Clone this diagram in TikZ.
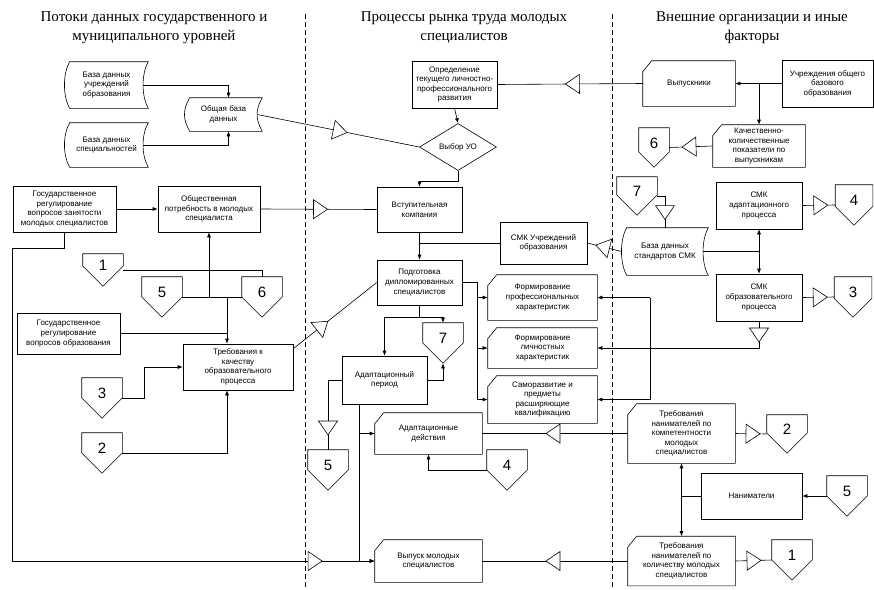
\documentclass[tikz,border=0pt]{standalone}
\usepackage{fontspec}
\setmainfont{Liberation Serif}
\newfontfamily\boxsans{Liberation Sans}
\usetikzlibrary{shapes.geometric,arrows.meta,calc}
\newcommand\storedout[1]{%
 \draw ($(#1.north west)+(5,0)$) -- (#1.north east)
   .. controls ($(#1.north east)+(-7,12)$) and ($(#1.south east)+(-7,-12)$) .. (#1.south east)
   -- ($(#1.south west)+(5,0)$)
   .. controls ($(#1.south west)+(-2,-12)$) and ($(#1.north west)+(-2,12)$) .. ($(#1.north west)+(5,0)$) -- cycle;}
\newcommand\cardout[1]{%
 \draw ($(#1.north west)+(9,0)$) -- (#1.north east) -- (#1.south east) -- (#1.south west) -- ($(#1.north west)+(0,11)$) -- cycle;}
\newcommand\offout[1]{%
 \draw (#1.north west) -- (#1.north east) -- ($(#1.south)!1.41421!45:(#1.south east)$) -- (#1.south)
   -- ($(#1.south)!1.41421!-45:(#1.south west)$) -- cycle;}
\begin{document}
\begin{tikzpicture}[x=1pt,y=-1pt,line width=0.6pt,
  every node/.style={font=\boxsans\fontsize{8}{9.6}\selectfont,align=center,inner sep=1pt},
  sz/.style 2 args={minimum width=#1pt,minimum height=#2pt},
  rbox/.style={draw},
  ttl/.style={font=\fontsize{15}{19}\selectfont},
  off/.style={inner sep=0pt,font=\boxsans\fontsize{15}{15}\selectfont,text height=11pt,text depth=10pt},
  tri/.style={draw,fill=white,isosceles triangle,isosceles triangle stretches,minimum width=19pt,
    minimum height=14pt,inner sep=0pt,sloped,allow upside down,anchor=center},
  arr/.style={-{Latex[length=5pt,width=4pt]}},
  arr2/.style={{Latex[length=5pt,width=4pt]}-{Latex[length=5pt,width=4pt]}},
  sepline/.style={dash pattern=on 5pt off 3pt,line width=0.5pt}]
\useasboundingbox (0,0) rectangle (874,589);
\fill[white] (0,0) rectangle (874,589);

% titles
\node[ttl] (t1) at (154,28) {Потоки данных государственного и\\муниципального уровней};
\node[ttl] (t2) at (464,28) {Процессы рынка труда молодых\\специалистов};
\node[ttl] (t3) at (752,28) {Внешние организации и иные\\факторы};

% separators
\draw[sepline] (305,14) -- (305,589);
\draw[sepline] (612,14) -- (612,589);

% left column
\node[sz={83}{46}] (dbA) at (106.5,85) {База данных\\учреждений\\образования};
\node[sz={83}{44}] (dbB) at (106.5,145) {База данных\\специальностей};
\node[sz={77}{33}] (dbAll) at (223.5,114.5) {Общая база\\данных};
\storedout{dbA}\storedout{dbB}\storedout{dbAll}
\node[rbox,sz={103}{46}] (gosZan) at (64.5,209) {Государственное\\регулирование\\вопросов занятости\\молодых специалистов};
\node[rbox,sz={102}{46}] (obPotr) at (209,209) {Общественная\\потребность в молодых\\специалиста};
\node[off,sz={40}{32}] (c1L) at (103,270) {1};
\node[off,sz={40}{40}] (c5L) at (162,297) {5};
\node[off,sz={40}{40}] (c6L) at (262,297) {6};
\node[rbox,sz={103}{41}] (gosObr) at (68.5,333.5) {Государственное\\регулирование\\вопросов образования};
\node[rbox,sz={110}{46}] (trKach) at (238,367) {Требования к\\качеству\\образовательного\\процесса};
\node[off,sz={40}{40}] (c3L) at (102,398) {3};
\node[off,sz={40}{40}] (c2L) at (102,453) {2};

% middle column
\node[rbox,sz={85}{47}] (opred) at (454.5,84.5) {Определение\\текущего личностно-\\профессионального\\развития};
\node[draw,diamond,sz={77}{47},inner sep=0pt] (vybor) at (458,147) {Выбор УО};
\node[rbox,sz={85}{45}] (vstup) at (419.5,209.5) {Вступительная\\компания};
\node[rbox,sz={87}{42}] (smkU) at (543.5,243) {СМК Учреждений\\образования};
\node[rbox,sz={85}{45}] (podg) at (419.5,282.5) {Подготовка\\дипломированных\\специалистов};
\node[sz={109}{45}] (fProf) at (542.5,297.5) {Формирование\\профессиональных\\характеристик};
\node[sz={109}{40}] (fLich) at (542.5,348) {Формирование\\личностных\\характеристик};
\node[sz={109}{47}] (samo) at (542.5,399.5) {Саморазвитие и\\предметы\\расширяющие\\квалификацию};
\cardout{fProf}\cardout{fLich}\cardout{samo}
\node[off,sz={40}{40}] (c7M) at (443,343) {7};
\node[rbox,sz={85}{48}] (adPer) at (384.5,380) {Адаптационный\\период};
\node[off,sz={40}{40}] (c5M) at (328,470) {5};
\node[sz={107}{41}] (adDey) at (428.5,433.5) {Адаптационные\\действия};
\node[off,sz={40}{40}] (c4M) at (507,470) {4};
\node[sz={107}{42}] (vypusk) at (428.5,561) {Выпуск молодых\\специалистов};
\cardout{adDey}\cardout{vypusk}

% right column
\node[sz={92}{45}] (vyp) at (689,83.5) {Выпускники};
\node[rbox,sz={91}{47}] (uchr) at (827.5,83.5) {Учреждения общего\\базового\\образования};
\node[sz={92}{42}] (kach) at (759,146) {Качественно-\\количественные\\показатели по\\выпускникам};
\cardout{vyp}\cardout{kach}
\node[off,sz={30}{39}] (c6R) at (654,147.5) {6};
\node[off,sz={40}{38}] (c7R) at (637,196) {7};
\node[sz={86}{47}] (dbSMK) at (665,251.5) {База данных\\стандартов СМК};
\storedout{dbSMK}
\node[rbox,sz={86}{47}] (smkA) at (759,205.5) {СМК\\адаптационного\\процесса};
\node[rbox,sz={86}{47}] (smkO) at (759,297.5) {СМК\\образовательного\\процесса};
\node[off,sz={37}{40}] (c4R) at (854,205) {4};
\node[off,sz={37}{40}] (c3R) at (853,297) {3};
\node[sz={107}{59}] (trK) at (681.5,433.5) {Требования\\нанимателей по\\компетентности\\молодых\\специалистов};
\node[off,sz={40}{38}] (c2R) at (787,434) {2};
\node[rbox,sz={101}{46}] (nan) at (751.5,496) {Наниматели};
\node[off,sz={40}{40}] (c5R) at (847,496) {5};
\node[sz={107}{49}] (trQ) at (681.5,561) {Требования\\нанимателей по\\количеству молодых\\специалистов};
\node[off,sz={40}{40}] (c1R) at (792,560) {1};
\cardout{trK}\cardout{trQ}
\foreach \c in {c1L,c5L,c6L,c3L,c2L,c7M,c5M,c4M,c6R,c7R,c4R,c3R,c2R,c5R,c1R}{\offout{\c}}

% connectors left
\draw[arr] ([xshift=-5pt]dbA.east) -| ($(dbAll.north)+(5,0)$);
\draw[arr] ([xshift=-5pt]dbB.east) -| ($(dbAll.south)+(5,0)$);
\draw ([xshift=-5pt]dbAll.east) -- node[tri,pos=0.5]{} (vybor.west);
\draw[arr] (gosZan.east) -- (obPotr.west);
\draw (obPotr.east) -- node[tri]{} (vstup.west);
\draw[arr] (gosZan.south) -- ++(0,16) -| (gosZan.west |- vypusk.west) -- node[tri,pos=0.83]{} (vypusk.west);
\draw (c1L.east) -| (c6L.north);
\draw (c5L.east) -- (c6L.west);
\draw[arr] (obPotr.south |- c5L.east) -- (obPotr.south);
\coordinate (tkN) at ($(trKach.north)+(-11,0)$);
\coordinate (tkS) at ($(trKach.south)+(-11,0)$);
\draw[arr] (tkN |- c5L.east) -- (tkN);
\draw (gosObr.east) -- (tkN |- gosObr.east);
\draw[arr] (c3L.east) -- ++(22,0) |- (trKach.west);
\draw[arr] (c2L.east) -| (tkS);
\draw ($(trKach.north east)+(0,5)$) -- node[tri,pos=0.33]{} (podg.west);

% connectors middle
\draw[arr] (opred.south) -- (vybor.north);
\draw[arr] (vybor.south) -- ++(0,10) -| (vstup.north);
\draw[arr] (vstup.south) -- (podg.north);
\draw (smkU.west) -- (smkU.west -| vstup.south);
\draw (dbSMK.west) -- node[tri]{} (smkU.east);
\draw (podg.east) -- ++(15,0) coordinate (bp) -- (bp |- samo.west);
\draw[arr] (bp |- fProf.west) -- (fProf.west);
\draw[arr] (bp |- fLich.west) -- (fLich.west);
\draw[arr] (bp |- samo.west) -- (samo.west);
\draw[arr] (podg.south) -- ++(0,12) -| (adPer.north);
\draw[arr] (podg.south) -- ++(0,12) -| (c7M.north);
\draw[arr] (adPer.east) -| (c7M.south);
\draw (adPer.west) -| node[tri,pos=0.83]{} (c5M.north);
\coordinate (ax) at ($(adPer.south)+(-25,0)$);
\draw[arr] (ax) |- (vypusk.west);
\draw[arr] (ax |- adDey.west) -- (adDey.west);
\draw[arr] (c4M.west) -| (adDey.south);
\draw (trK.west) -- node[tri]{} (adDey.east);
\draw (trQ.west) -- node[tri]{} (vypusk.east);

% connectors right
\draw[arr] (uchr.west) -- (vyp.east);
\draw[arr] (kach.north |- uchr.west) -- (kach.north);
\draw (vyp.west) -- node[tri,pos=0.47]{} (opred.east);
\draw (kach.west) -- node[tri]{} (c6R.east);
\draw (c7R.east) -| node[tri,pos=0.73]{} (dbSMK.north);
\draw ([xshift=-5pt]dbSMK.east) -- (dbSMK.east -| smkA.south);
\draw[arr2] (smkA.south) -- (smkO.north);
\draw (smkA.east) -- node[tri]{} (c4R.west);
\draw (smkO.east) -- node[tri]{} (c3R.west);
\draw[arr] (smkO.south) |- node[tri,pos=0.22]{} (fLich.east);
\coordinate (bx) at (650,0);
\draw (bx |- fProf.east) -- (bx |- samo.east);
\draw[arr] (bx |- fProf.east) -- (fProf.east);
\draw[arr] (bx |- samo.east) -- (samo.east);
\draw (trK.east) -- node[tri]{} (c2R.west);
\draw[arr] (c5R.west) -- (nan.east);
\draw (nan.west) -- (trK.south |- nan.west);
\draw[arr2] (trK.south) -- (trQ.north);
\draw (trQ.east) -- node[tri,pos=0.46]{} (c1R.west);
\end{tikzpicture}
\end{document}
